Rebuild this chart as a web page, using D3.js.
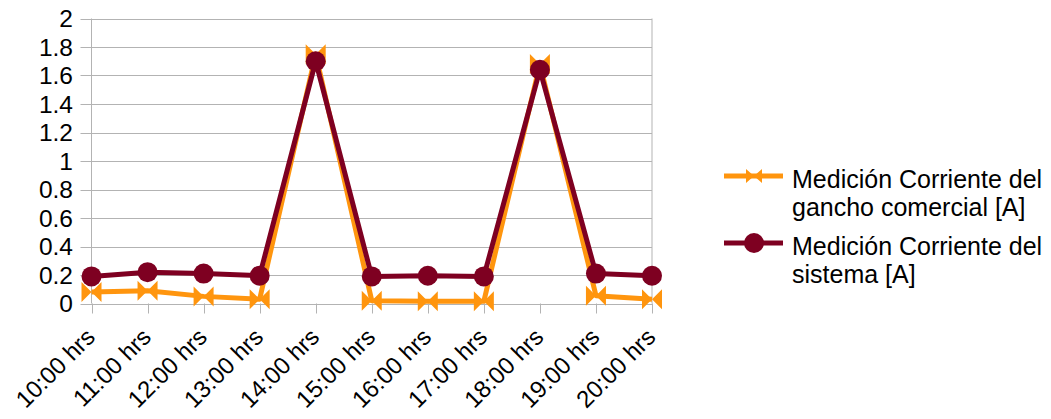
<!DOCTYPE html>
<html>
<head>
<meta charset="utf-8">
<script src="https://cdn.jsdelivr.net/npm/d3@7"></script>
<style>
  body { margin: 0; background: #fff; }
  text { font-family: "Liberation Sans", Arial, sans-serif; fill: #000; }
</style>
</head>
<body>
<svg id="chart" width="1051" height="419"></svg>
<script>
// Hours on the x axis
var hours = ["10:00 hrs", "11:00 hrs", "12:00 hrs", "13:00 hrs", "14:00 hrs", "15:00 hrs",
             "16:00 hrs", "17:00 hrs", "18:00 hrs", "19:00 hrs", "20:00 hrs"];

// Series values [A]
var gancho = [0.08, 0.09, 0.05, 0.03, 1.75, 0.02, 0.015, 0.015, 1.68, 0.055, 0.03];
var sistema = [0.19, 0.22, 0.21, 0.195, 1.70, 0.19, 0.195, 0.19, 1.64, 0.21, 0.195];

var yTicks = [0, 0.2, 0.4, 0.6, 0.8, 1, 1.2, 1.4, 1.6, 1.8, 2];

var svg = d3.select("#chart");

// Plot area
var plotLeft = 91.5, plotRight = 652, plotTop = 18.5, plotBottom = 303.5;

var x = d3.scalePoint()
    .domain(hours)
    .range([plotLeft, plotRight]);

var y = d3.scaleLinear()
    .domain([0, 2])
    .range([plotBottom, plotTop]);

var gridColor = "#b3b3b3";

// Horizontal gridlines, sticking out a bit to the left
svg.append("g")
    .selectAll("line")
    .data(yTicks)
    .join("line")
    .attr("x1", plotLeft - 11)
    .attr("x2", plotRight)
    .attr("y1", function(d) { return Math.round(y(d)) + 0.5; })
    .attr("y2", function(d) { return Math.round(y(d)) + 0.5; })
    .attr("stroke", gridColor)
    .attr("stroke-width", 1);

// Y tick labels
svg.append("g")
    .selectAll("text")
    .data(yTicks)
    .join("text")
    .attr("x", 73)
    .attr("y", function(d) { return y(d) + 8.5; })
    .attr("text-anchor", "end")
    .style("font-size", "24.5px")
    .text(function(d) { return d; });

// Left axis line and right border
svg.append("line")
    .attr("x1", plotLeft).attr("x2", plotLeft)
    .attr("y1", plotTop).attr("y2", plotBottom)
    .attr("stroke", gridColor);
svg.append("line")
    .attr("x1", plotRight).attr("x2", plotRight)
    .attr("y1", plotTop).attr("y2", plotBottom)
    .attr("stroke", gridColor);

// X tick marks below the axis
svg.append("g")
    .selectAll("line")
    .data(hours)
    .join("line")
    .attr("x1", function(d) { return Math.round(x(d)) + 0.5; })
    .attr("x2", function(d) { return Math.round(x(d)) + 0.5; })
    .attr("y1", plotBottom)
    .attr("y2", plotBottom + 10)
    .attr("stroke", gridColor);

// X tick labels, rotated
svg.append("g")
    .selectAll("text")
    .data(hours)
    .join("text")
    .attr("text-anchor", "end")
    .attr("transform", function(d) {
        return "translate(" + (x(d) + 5) + "," + (plotBottom + 35) + ") rotate(-45)";
    })
    .style("font-size", "24px")
    .text(function(d) { return d; });

var orange = "#ff950e";
var maroon = "#7e0021";

var line = d3.line()
    .x(function(d, i) { return x(hours[i]); })
    .y(function(d) { return y(d); });

// Bow-tie marker path
var bowtie = function(cx, cy, sx, sy) {
    return "M" + (cx - sx) + "," + (cy - sy) + "L" + cx + "," + cy + "L" + (cx - sx) + "," + (cy + sy) + "Z" +
           "M" + (cx + sx) + "," + (cy - sy) + "L" + cx + "," + cy + "L" + (cx + sx) + "," + (cy + sy) + "Z";
};

// Orange series
svg.append("path")
    .datum(gancho)
    .attr("d", line)
    .attr("fill", "none")
    .attr("stroke", orange)
    .attr("stroke-width", 5)
    .attr("stroke-linejoin", "round");

svg.append("g")
    .selectAll("path")
    .data(gancho)
    .join("path")
    .attr("d", function(d, i) { return bowtie(x(hours[i]), y(d), 10, 10); })
    .attr("fill", orange);

// Maroon series
svg.append("path")
    .datum(sistema)
    .attr("d", line)
    .attr("fill", "none")
    .attr("stroke", maroon)
    .attr("stroke-width", 5)
    .attr("stroke-linejoin", "round");

svg.append("g")
    .selectAll("circle")
    .data(sistema)
    .join("circle")
    .attr("cx", function(d, i) { return x(hours[i]); })
    .attr("cy", function(d) { return y(d); })
    .attr("r", 10)
    .attr("fill", maroon);

// Legend
var legend = [
    {color: orange, marker: "bowtie", lines: ["Medición Corriente del", "gancho comercial [A]"], y: 176},
    {color: maroon, marker: "circle", lines: ["Medición Corriente del", "sistema [A]"], y: 243}
];

var lg = svg.append("g")
    .selectAll("g")
    .data(legend)
    .join("g");

lg.append("line")
    .attr("x1", 724).attr("x2", 783)
    .attr("y1", function(d) { return d.y; })
    .attr("y2", function(d) { return d.y; })
    .attr("stroke", function(d) { return d.color; })
    .attr("stroke-width", 5);

lg.each(function(d) {
    var g = d3.select(this);
    if (d.marker === "circle") {
        g.append("circle").attr("cx", 754).attr("cy", d.y).attr("r", 10).attr("fill", d.color);
    } else {
        g.append("path").attr("d", bowtie(754, d.y, 8, 7)).attr("fill", d.color);
    }
    g.append("text")
        .attr("x", 792)
        .attr("y", d.y + 12)
        .style("font-size", "25px")
        .selectAll("tspan")
        .data(d.lines)
        .join("tspan")
        .attr("x", 792)
        .attr("dy", function(t, i) { return i === 0 ? 0 : 28; })
        .text(function(t) { return t; });
});
</script>
</body>
</html>
